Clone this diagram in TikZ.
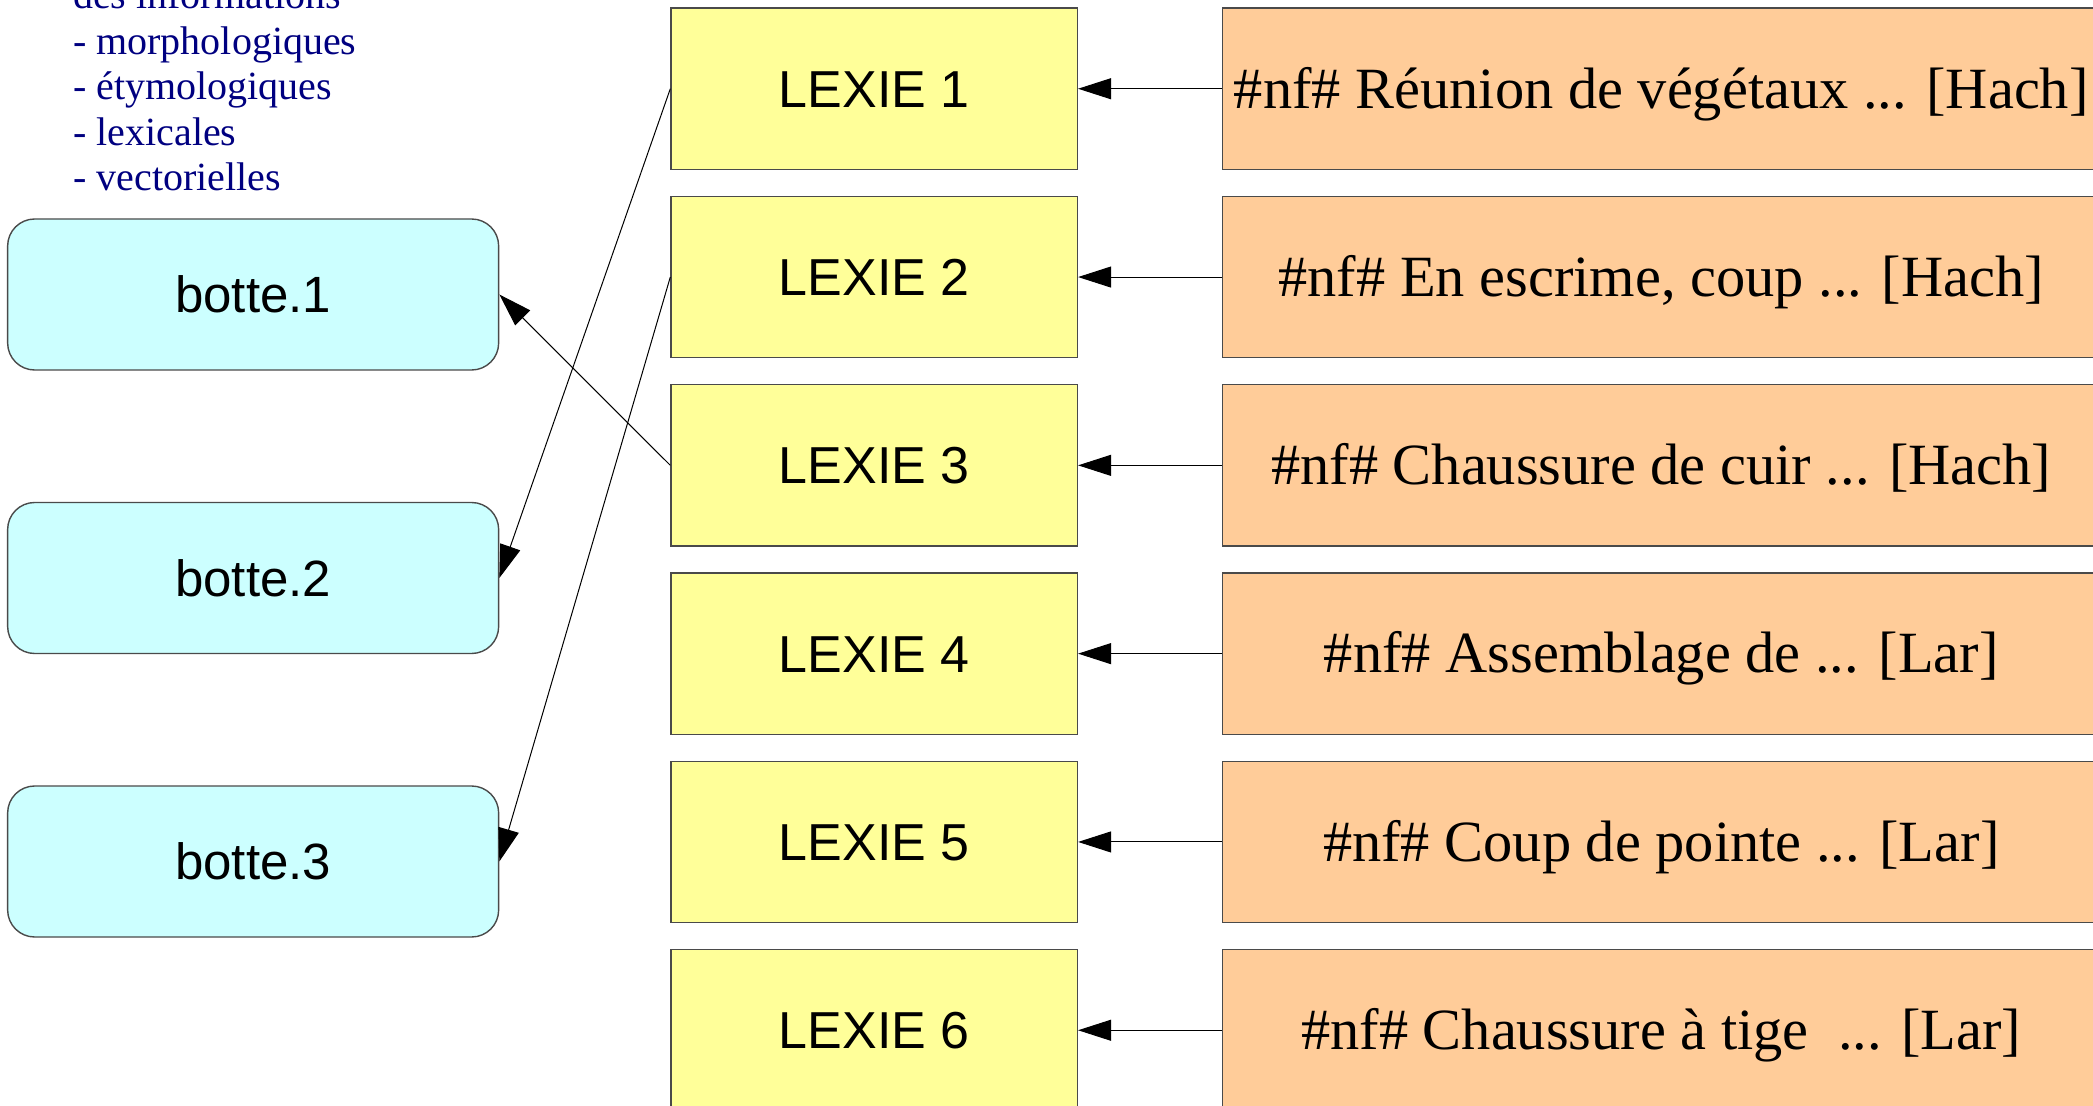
\documentclass[tikz,border=0pt]{standalone}
\usepackage{fontspec}
\setmainfont{Liberation Serif}
\newfontfamily\arialfont{Liberation Sans}
\usetikzlibrary{arrows.meta}
\definecolor{lexfill}{HTML}{FFFF99}
\definecolor{deffill}{HTML}{FFCC99}
\definecolor{botfill}{HTML}{CCFFFF}
\definecolor{infoblue}{HTML}{000080}
\definecolor{edgegray}{HTML}{4A4A4A}
\begin{document}
\begin{tikzpicture}[x=0.5pt,y=-0.5pt,
  lexbox/.style={draw=edgegray, line width=0.7pt, fill=lexfill,
    minimum width=203.2pt, minimum height=80.75pt, inner sep=0pt,
    font=\arialfont\fontsize{26pt}{30pt}\selectfont, text height=18.6pt, text depth=0pt},
  defbox/.style={draw=edgegray, line width=0.7pt, fill=deffill,
    minimum width=438.75pt, minimum height=80.75pt, inner sep=0pt,
    font=\fontsize{29.2pt}{34pt}\selectfont, text height=19.3pt, text depth=0pt},
  botbox/.style={draw=edgegray, line width=0.7pt, fill=botfill, rounded corners=13.5pt,
    minimum width=245.5pt, minimum height=75.5pt, inner sep=0pt,
    font=\arialfont\fontsize{25.5pt}{30pt}\selectfont, text height=18.3pt, text depth=0pt},
  infotext/.style={anchor=base west, inner sep=0pt, text=infoblue,
    font=\fontsize{20pt}{22.75pt}\selectfont},
  arr/.style={draw=black, line width=0.5pt, -{Triangle[length=16.5pt,width=10.5pt]}}
]
\useasboundingbox (0,0) rectangle (2093,1106);
\clip (0,0) rectangle (2093,1106);

% info text
\node[infotext] (i0) at (72.8,8.8) {des informations};
\node[infotext] (i1) at (72.8,54.3) {- morphologiques};
\node[infotext] (i2) at (72.8,99.8) {- étymologiques};
\node[infotext] (i3) at (72.8,145.2) {- lexicales};
\node[infotext] (i4) at (72.8,190.7) {- vectorielles};

% botte boxes
\node[botbox] (b1) at (253.15,294.5) {botte.1};
\node[botbox] (b2) at (253.15,578) {botte.2};
\node[botbox] (b3) at (253.15,861.5) {botte.3};

% lexie boxes
\node[lexbox] (l1) at (874.2,88.75) {LEXIE 1};
\node[lexbox] (l2) at (874.2,277.05) {LEXIE 2};
\node[lexbox] (l3) at (874.2,465.35) {LEXIE 3};
\node[lexbox] (l4) at (874.2,653.65) {LEXIE 4};
\node[lexbox] (l5) at (874.2,841.95) {LEXIE 5};
\node[lexbox] (l6) at (874.2,1030.25) {LEXIE 6};

% definition boxes
\node[defbox] (d1) at (1661.25,88.75) {\#nf\# Réunion de végétaux ... [Hach]};
\node[defbox] (d2) at (1661.25,277.05) {\#nf\# En escrime, coup ... [Hach]};
\node[defbox] (d3) at (1661.25,465.35) {\#nf\# Chaussure de cuir ... [Hach]};
\node[defbox] (d4) at (1661.25,653.65) {\#nf\# Assemblage de ... [Lar]};
\node[defbox] (d5) at (1661.25,841.95) {\#nf\# Coup de pointe ... [Lar]};
\node[defbox] (d6) at (1661.25,1030.25) {\#nf\# Chaussure à tige\ \ ... [Lar]};

% arrows definitions -> lexies
\draw[arr] (d1.west) -- (l1.east);
\draw[arr] (d2.west) -- (l2.east);
\draw[arr] (d3.west) -- (l3.east);
\draw[arr] (d4.west) -- (l4.east);
\draw[arr] (d5.west) -- (l5.east);
\draw[arr] (d6.west) -- (l6.east);

% arrows lexies -> bottes
\draw[arr] (l1.west) -- (b2.east);
\draw[arr] (l2.west) -- (b3.east);
\draw[arr] (l3.west) -- (b1.east);
\end{tikzpicture}
\end{document}
